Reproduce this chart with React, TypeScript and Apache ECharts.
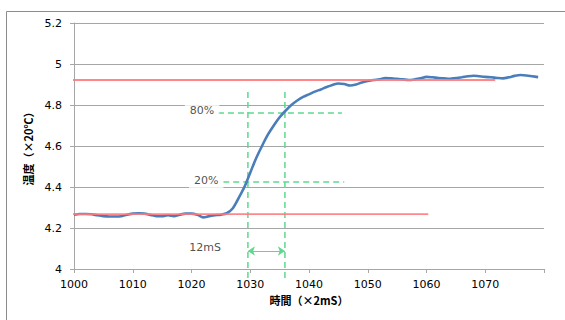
import React, { useEffect, useRef } from "react";
import * as echarts from "echarts";

const xStart = 1000;
const tempValues = [
  4.265, 4.268, 4.268, 4.267, 4.262, 4.258, 4.256, 4.256, 4.257, 4.265,
  4.27, 4.272, 4.27, 4.264, 4.258, 4.257, 4.262, 4.258, 4.265, 4.27,
  4.27, 4.264, 4.252, 4.258, 4.262, 4.265, 4.272, 4.295, 4.345, 4.4,
  4.47, 4.54, 4.6, 4.655, 4.7, 4.74, 4.772, 4.8, 4.822, 4.84,
  4.852, 4.865, 4.876, 4.888, 4.898, 4.905, 4.902, 4.895, 4.9, 4.91,
  4.917, 4.922, 4.925, 4.932, 4.93, 4.928, 4.925, 4.922, 4.925, 4.93,
  4.937, 4.935, 4.932, 4.93, 4.928, 4.932, 4.935, 4.94, 4.943, 4.94,
  4.937, 4.935, 4.932, 4.93, 4.935, 4.942, 4.946, 4.944, 4.94, 4.936,
];

// reference levels (red)
const upperLevel = { value: 4.922, from: 998.6, to: 1071.7 };
const lowerLevel = { value: 4.268, from: 998.6, to: 1060.3 };

// 20% / 80% guide lines (green)
const guideX = [1029.6, 1035.9];
const guideXRange = [3.956, 4.873];
const guideY = [
  { value: 4.761, from: 1024.5, to: 1045.6, label: "80%", labelX: 1021.8 },
  { value: 4.424, from: 1025.4, to: 1046.0, label: "20%", labelX: 1022.5 },
];
const spanArrow = { y: 4.088, label: "12mS", labelX: 1022.3, labelY: 4.107 };

const yTicks = { min: 4, max: 5.2, interval: 0.2 };
const xTicks = { min: 1000, max: 1080, interval: 10 };

const RED = "#ff7a7c";
const GREEN = "#5fd88e";
const BLUE = "#4a7ebb";
const GRID = "#a6a6a6";

export default function App() {
  const ref = useRef<HTMLDivElement>(null);
  useEffect(() => {
    if (!ref.current) return;
    const chart = echarts.init(ref.current, undefined, { renderer: "svg" });
    const lineData = tempValues.map((v, i) => [xStart + i, v]);
    const fontFamily = "'DejaVu Sans', Verdana, sans-serif";
    const cjk = "'Noto Sans CJK JP', 'DejaVu Sans', sans-serif";

    const series: any[] = [];
    guideX.forEach((x) => {
      series.push({
        type: "line",
        clip: false,
        symbol: "none",
        z: 2,
        data: [
          [x, guideXRange[0]],
          [x, guideXRange[1]],
        ],
        lineStyle: { color: GREEN, width: 1.5, type: [6, 4] },
      });
    });
    guideY.forEach((g) => {
      series.push({
        type: "line",
        clip: false,
        symbol: "none",
        z: 2,
        data: [
          [g.from, g.value],
          [g.to, g.value],
        ],
        lineStyle: { color: GREEN, width: 1.5, type: [6, 4] },
      });
    });
    series.push({
      type: "line",
      symbol: "none",
      z: 2,
      data: [],
      markLine: {
        silent: true,
        symbol: ["arrow", "arrow"],
        symbolSize: [7, 7],
        label: { show: false },
        lineStyle: { color: GREEN, width: 1.2, type: "solid" },
        data: [
          [
            { coord: [guideX[0], spanArrow.y] },
            { coord: [guideX[1], spanArrow.y] },
          ],
        ],
      },
    });
    series.push({
      type: "line",
      smooth: 0.3,
      symbol: "none",
      z: 3,
      data: lineData,
      lineStyle: { color: BLUE, width: 2.6 },
    });
    [upperLevel, lowerLevel].forEach((l) => {
      series.push({
        type: "line",
        clip: false,
        symbol: "none",
        z: 4,
        data: [
          [l.from, l.value],
          [l.to, l.value],
        ],
        lineStyle: { color: RED, width: 1.8, opacity: 0.9 },
      });
    });
    series.push({
      type: "scatter",
      symbolSize: 0,
      z: 6,
      data: [
        ...guideY.map((g) => ({ value: [g.labelX, g.value + 0.01], name: g.label })),
      ],
      label: {
        show: true,
        position: "inside",
        formatter: (p: any) => p.name,
        color: "#222",
        fontSize: 11,
        fontFamily,
        backgroundColor: "#fff",
        padding: [6, 5, 4, 5],
      },
    });
    series.push({
      type: "scatter",
      symbolSize: 0,
      z: 6,
      data: [{ value: [spanArrow.labelX, spanArrow.labelY], name: spanArrow.label }],
      label: {
        show: true,
        position: "inside",
        formatter: (p: any) => p.name,
        color: "#222",
        fontSize: 11,
        fontFamily,
      },
    });

    chart.setOption({
      animation: false,
      backgroundColor: "#fff",
      grid: { left: 74, right: 21, top: 23, bottom: 51 },
      graphic: [
        {
          type: "rect",
          shape: { x: 6.5, y: 11.5, width: 700, height: 400 },
          style: { fill: "none", stroke: "#8c8c8c", lineWidth: 1 },
          z: -10,
        },
      ],
      xAxis: {
        type: "value",
        min: xTicks.min,
        max: xTicks.max,
        interval: xTicks.interval,
        name: "時間（×2mS）",
        nameLocation: "middle",
        nameGap: 25,
        nameTextStyle: { fontFamily: cjk, fontSize: 11, fontWeight: "bold", color: "#000" },
        axisLine: { lineStyle: { color: GRID, width: 1 } },
        axisTick: { show: true, length: 4, lineStyle: { color: GRID } },
        axisLabel: {
          margin: 10,
          color: "#000",
          fontSize: 11,
          fontFamily,
          formatter: (v: number) => (v === xTicks.max ? "" : String(v)),
        },
        splitLine: { show: false },
      },
      yAxis: {
        type: "value",
        min: yTicks.min,
        max: yTicks.max,
        interval: yTicks.interval,
        name: "温度（×20℃）",
        nameLocation: "middle",
        nameRotate: 90,
        nameGap: 37,
        nameTextStyle: { fontFamily: cjk, fontSize: 11, fontWeight: "bold", color: "#000" },
        axisLine: { show: true, lineStyle: { color: GRID, width: 1 } },
        axisTick: { show: true, length: 4, lineStyle: { color: GRID } },
        axisLabel: {
          margin: 12,
          color: "#000",
          fontSize: 11,
          fontFamily,
          formatter: (v: number) => String(Math.round(v * 10) / 10),
        },
        splitLine: { show: true, lineStyle: { color: GRID, width: 1 } },
      },
      series,
    });
    return () => chart.dispose();
  }, []);
  return (
    <div
      ref={ref}
      style={{ position: "fixed", left: 0, top: 0, width: 565, height: 320, background: "#fff" }}
    />
  );
}
